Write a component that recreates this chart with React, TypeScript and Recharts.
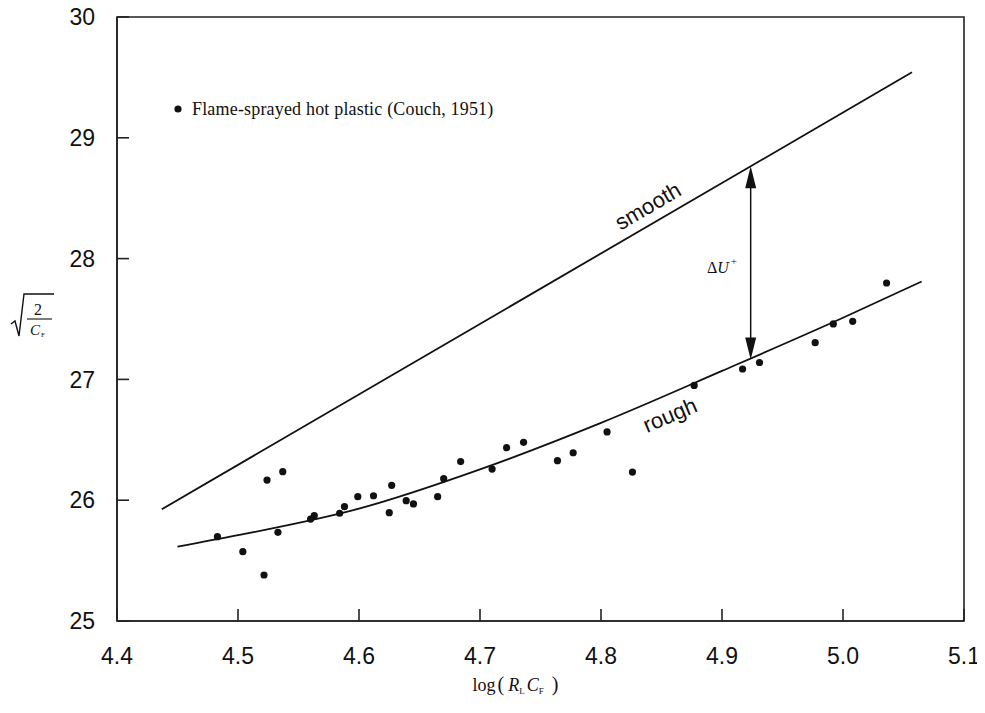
import React from 'react';
import {
  ComposedChart,
  XAxis,
  YAxis,
  Scatter,
  Line,
  ReferenceLine,
  ReferenceDot,
  ReferenceArea,
  Legend,
} from 'recharts';

// ---- data ----
const xTicks = [4.4, 4.5, 4.6, 4.7, 4.8, 4.9, 5.0, 5.1];
const yTicks = [25, 26, 27, 28, 29, 30];

const couchX = [
  4.483, 4.504, 4.5215, 4.524, 4.533, 4.537, 4.560, 4.563, 4.584, 4.588,
  4.599, 4.612, 4.625, 4.627, 4.639, 4.645, 4.665, 4.670, 4.684, 4.710,
  4.722, 4.736, 4.764, 4.777, 4.805, 4.826, 4.877, 4.917, 4.931, 4.977,
  4.992, 5.008, 5.036,
];
const couchY = [
  25.698, 25.574, 25.381, 26.167, 25.734, 26.236, 25.844, 25.872, 25.892, 25.946,
  26.029, 26.037, 25.897, 26.123, 25.996, 25.969, 26.029, 26.178, 26.320, 26.258,
  26.435, 26.479, 26.327, 26.393, 26.565, 26.233, 26.950, 27.086, 27.140, 27.304,
  27.459, 27.481, 27.798,
];

const smoothX = [4.437, 5.057];
const smoothY = [25.925, 29.542];

const roughX = [4.45, 4.5, 4.6, 4.7, 4.8, 4.9, 5.0, 5.065];
const roughY = [25.615, 25.71, 25.93, 26.255, 26.64, 27.07, 27.51, 27.81];

const deltaX = 4.9237;
const deltaTopY = 28.765;
const deltaBottomY = 27.165;

const legendLabel = 'Flame-sprayed hot plastic (Couch, 1951)';

const zip = (xs: number[], ys: number[]) => xs.map((x, i) => ({ x, y: ys[i] }));
const couchData = zip(couchX, couchY);
const smoothData = zip(smoothX, smoothY);
const roughData = zip(roughX, roughY);

const INK = '#111';
const SANS = '"Liberation Sans", Arial, sans-serif';
const SERIF = '"Liberation Serif", "Times New Roman", serif';

const DotShape = (p: any) => <circle cx={p.cx} cy={p.cy} r={3.6} fill={INK} />;

const ArrowShape = (p: any) => {
  const x = p.x1;
  const top = Math.min(p.y1, p.y2);
  const bot = Math.max(p.y1, p.y2);
  const L = 22;
  const W = 5.5;
  return (
    <g>
      <line x1={x} y1={top + L - 2} x2={x} y2={bot - L + 2} stroke={INK} strokeWidth={1.5} />
      <polygon points={`${x},${top} ${x - W},${top + L} ${x + W},${top + L}`} fill={INK} />
      <polygon points={`${x},${bot} ${x - W},${bot - L} ${x + W},${bot - L}`} fill={INK} />
    </g>
  );
};

const rotatedText = (text: string, angle: number) => (p: any) => (
  <text
    x={p.cx}
    y={p.cy}
    textAnchor="middle"
    dominantBaseline="central"
    transform={`rotate(${angle} ${p.cx} ${p.cy})`}
    fontFamily={SANS}
    fontSize={22}
    fill={INK}
  >
    {text}
  </text>
);

const DeltaLabel = (p: any) => (
  <text x={p.cx} y={p.cy} textAnchor="middle" dominantBaseline="central" fontFamily={SERIF} fontSize={16} fill={INK}>
    Δ<tspan fontStyle="italic">U</tspan>
    <tspan fontSize={11} dy={-6} dx={2}>+</tspan>
  </text>
);

const XLabel = (props: any) => {
  const vb = props.viewBox || { x: 0, y: 0, width: 0, height: 0 };
  const x0 = vb.x + vb.width / 2 - 68;
  const y = vb.y + 70;
  return (
    <text x={x0} y={y} fontFamily={SERIF} fontSize={18} fill={INK}>
      log
      <tspan dx={2} fontSize={20}>(</tspan>
      <tspan dx={4} fontStyle="italic">R</tspan>
      <tspan fontSize={9} dy={3}>L</tspan>
      <tspan dx={2} dy={-3} fontStyle="italic">C</tspan>
      <tspan fontSize={9} dy={3}>F</tspan>
      <tspan dx={8} dy={-3} fontSize={20}>)</tspan>
    </text>
  );
};

const YLabel = (props: any) => {
  const vb = props.viewBox || { x: 0, y: 0, width: 0, height: 0 };
  const cx = 24;
  const cy = vb.y + vb.height / 2 - 6;
  return (
    <g transform={`translate(${cx},${cy})`} fill={INK}>
      <path d="M-21,11 L-17,8 L-13,23 L-8,-19 L22,-19" fill="none" stroke={INK} strokeWidth={1.4} />
      <text x={6} y={2} textAnchor="middle" fontFamily={SERIF} fontSize={16}>2</text>
      <line x1={-5} y1={6} x2={20} y2={6} stroke={INK} strokeWidth={1.1} />
      <text x={-2} y={22} fontFamily={SERIF} fontSize={15}>
        <tspan fontStyle="italic">C</tspan>
        <tspan fontSize={7} dy={2} dx={1}>F</tspan>
      </text>
    </g>
  );
};

const LegendContent = () => (
  <div style={{ display: 'flex', alignItems: 'center', height: 20, whiteSpace: 'nowrap' }}>
    <svg width={8} height={8} style={{ display: 'block' }}>
      <circle cx={4} cy={4} r={3.6} fill={INK} />
    </svg>
    <span
      style={{
        marginLeft: 10,
        fontFamily: SERIF,
        fontSize: 18,
        letterSpacing: 0.18,
        color: INK,
        lineHeight: '20px',
      }}
    >
      {legendLabel}
    </span>
  </div>
);

const axisLine = { stroke: '#222', strokeWidth: 1.6 };
const tickLine = { stroke: '#222', strokeWidth: 1.6 };
const tickStyle = { fill: INK, fontSize: 23, fontFamily: SANS };

export default function App() {
  return (
    <>
      <style>{'svg.recharts-surface { overflow: visible; }'}</style>
      <ComposedChart width={969} height={697} margin={{ top: 9, right: 13, left: 0, bottom: 0 }}>
        <XAxis
          type="number"
          dataKey="x"
          domain={[4.4, 5.1]}
          ticks={xTicks}
          interval={0}
          allowDataOverflow
          tickFormatter={(v: number) => v.toFixed(1)}
          height={84}
          tickSize={-12}
          tickMargin={39}
          axisLine={axisLine}
          tickLine={tickLine}
          tick={tickStyle}
          label={<XLabel />}
        />
        <YAxis
          type="number"
          dataKey="y"
          domain={[25, 30]}
          ticks={yTicks}
          interval={0}
          allowDataOverflow
          width={109}
          tickSize={-12}
          tickMargin={34}
          axisLine={axisLine}
          tickLine={tickLine}
          tick={tickStyle}
          label={<YLabel />}
        />
        <ReferenceArea
          x1={4.4}
          x2={5.1}
          y1={25}
          y2={30}
          fill="none"
          fillOpacity={0}
          stroke="#222"
          strokeWidth={1.6}
          ifOverflow="visible"
        />
        <Legend
          verticalAlign="middle"
          align="center"
          layout="horizontal"
          wrapperStyle={{ top: 91, left: 166, width: 'auto' }}
          content={() => <LegendContent />}
        />
        <Line
          data={smoothData}
          dataKey="y"
          type="linear"
          stroke={INK}
          strokeWidth={1.8}
          dot={false}
          activeDot={false}
          legendType="none"
          isAnimationActive={false}
        />
        <Line
          data={roughData}
          dataKey="y"
          type="monotone"
          stroke={INK}
          strokeWidth={1.8}
          dot={false}
          activeDot={false}
          legendType="none"
          isAnimationActive={false}
        />
        <Scatter data={couchData} dataKey="y" shape={DotShape} isAnimationActive={false} />
        <ReferenceLine
          segment={[
            { x: deltaX, y: deltaTopY },
            { x: deltaX, y: deltaBottomY },
          ]}
          shape={ArrowShape}
          ifOverflow="visible"
        />
        <ReferenceDot x={4.8388} y={28.435} r={0} ifOverflow="visible" shape={rotatedText('smooth', -30.2)} />
        <ReferenceDot x={4.857} y={26.705} r={0} ifOverflow="visible" shape={rotatedText('rough', -23)} />
        <ReferenceDot x={4.9} y={27.93} r={0} ifOverflow="visible" shape={DeltaLabel} />
      </ComposedChart>
    </>
  );
}
